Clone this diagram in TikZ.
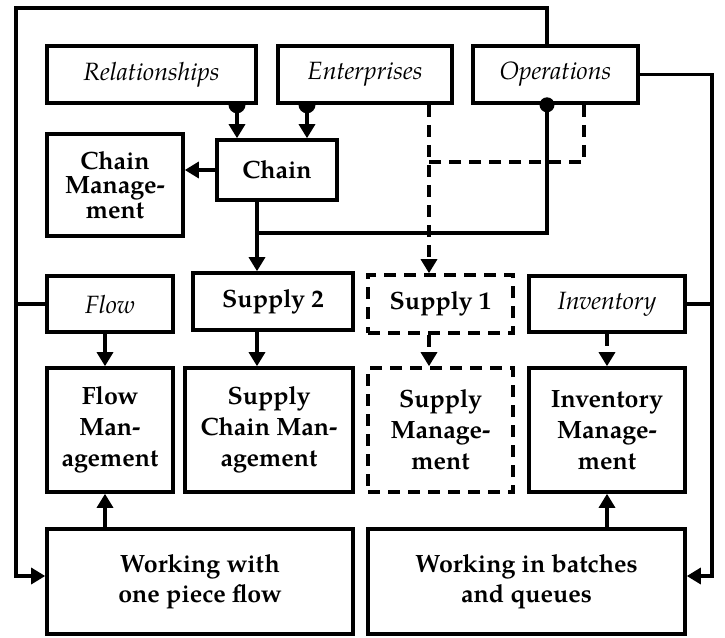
\documentclass[tikz,border=0pt]{standalone}
\usepackage{fontspec}
\setmainfont{TeX Gyre Pagella}
\usetikzlibrary{arrows.meta,backgrounds}
\begin{document}
\begin{tikzpicture}[x=1pt,y=-1pt,
  box/.style={draw, line width=3.6pt, fill=white, inner sep=0pt, align=center,
    font=\fontsize{25}{30}\selectfont\bfseries},
  ibox/.style={box, font=\fontsize{25}{30}\selectfont\itshape},
  bbox/.style={box, font=\fontsize{25}{31}\selectfont\bfseries},
  dbox/.style={bbox, dash pattern=on 12pt off 8pt},
  lnk/.style={line width=3.2pt},
  dlnk/.style={lnk, dash pattern=on 12pt off 8pt},
  tip/.style={-{Triangle[width=16pt,length=14pt]}},
  dot/.style={fill=black, draw=none}]
\useasboundingbox (0,0) rectangle (725,637);

% top row
\node[ibox, minimum width=209pt, minimum height=57pt] (rel) at (151.5,74.5) {Relationships};
\node[ibox, minimum width=174pt, minimum height=57pt] (ent) at (365,74.5) {Enterprises};
\node[ibox, minimum width=165pt, minimum height=57pt] (ops) at (555.5,74.5) {Operations};

% chain row
\node[bbox, minimum width=136pt, minimum height=102pt,
  font=\fontsize{25}{24.5}\selectfont\bfseries] (cm) at (115,185) {Chain\\Manage-\\ment};
\node[bbox, minimum width=120pt, minimum height=60pt] (chain) at (277,170) {Chain};

% second row
\node[ibox, minimum width=126pt, minimum height=56pt] (flow) at (110,304) {Flow};
\node[bbox, minimum width=160pt, minimum height=57pt] (s2) at (273,301.5) {Supply 2};
\node[dbox, minimum width=145pt, minimum height=58pt] (s1) at (440.5,304) {Supply 1};
\node[ibox, minimum width=156pt, minimum height=56pt] (inv) at (607,304) {Inventory};

% management row
\node[bbox, minimum width=126pt, minimum height=124pt] (fm) at (110,430) {Flow\\Man-\\agement};
\node[bbox, minimum width=168pt, minimum height=124pt] (scm) at (269,430) {Supply\\Chain Man-\\agement};
\node[dbox, minimum width=145pt, minimum height=124pt] (sm) at (440.5,430) {Supply\\Manage-\\ment};
\node[bbox, minimum width=156pt, minimum height=124pt] (im) at (607,430) {Inventory\\Manage-\\ment};

% working modes
\node[box, minimum width=306pt, minimum height=105pt] (w1) at (200,581.5) {Working with\\one piece flow};
\node[box, minimum width=317pt, minimum height=105pt] (w2) at (526.5,581.5) {Working in batches\\and queues};

% routing columns and rows
\coordinate (cA) at (237,0);
\coordinate (cB) at (307,0);
\coordinate (cC) at (257,0);
\coordinate (cD) at (429,0);
\coordinate (cE) at (547,0);
\coordinate (cF) at (584,0);
\coordinate (cG) at (105,0);
\coordinate (cH) at (607,0);
\coordinate (lft) at (16,8);
\coordinate (rgt) at (712,0);
\coordinate (rJ) at (0,233);
\coordinate (rD) at (0,162);
\coordinate (rL) at (0,576);

\begin{scope}[on background layer]
  % feeds into Chain
  \fill[dot] (rel.south -| cA) circle (8.5pt);
  \fill[dot] (ent.south -| cB) circle (8.5pt);
  \draw[lnk, tip] (rel.south -| cA) -- (chain.north -| cA);
  \draw[lnk, tip] (ent.south -| cB) -- (chain.north -| cB);
  \draw[lnk, tip] (chain.west) -- (cm.east |- chain.west);
  % Chain and Operations into Supply 2
  \draw[lnk, line cap=rect] (chain.south -| cC) -- (cC |- rJ);
  \draw[lnk, tip] (ops.south -| cE) -- (cE |- rJ) -- (cC |- rJ) -- (s2.north -| cC);
  % dashed feeds into Supply 1
  \draw[dlnk, tip] (ent.south -| cD) -- (s1.north -| cD);
  \draw[dlnk] (ops.south -| cF) -- (cF |- rD) -- (cD |- rD);
  % outer loops
  \draw[lnk, tip] (ops.north -| cE) -- (cE |- lft) -- (lft) -- (lft |- rL) -- (w1.west |- rL);
  \draw[lnk] (flow.west) -- (flow.west -| lft);
  \draw[lnk, tip] (ops.east) -- (ops.east -| rgt) -- (rgt |- rL) -- (w2.east |- rL);
  \draw[lnk] (inv.east) -- (inv.east -| rgt);
  % into the management boxes
  \draw[lnk, tip] (flow.south -| cG) -- (fm.north -| cG);
  \draw[lnk, tip] (s2.south -| cC) -- (scm.north -| cC);
  \draw[dlnk, tip] (s1.south -| cD) -- (sm.north -| cD);
  \draw[dlnk, tip] (inv.south -| cH) -- (im.north -| cH);
  \draw[lnk, tip] (w1.north -| cG) -- (fm.south -| cG);
  \draw[lnk, tip] (w2.north -| cH) -- (im.south -| cH);
\end{scope}
\fill[dot] (ops.south -| cE) circle (7.5pt);
\end{tikzpicture}
\end{document}
